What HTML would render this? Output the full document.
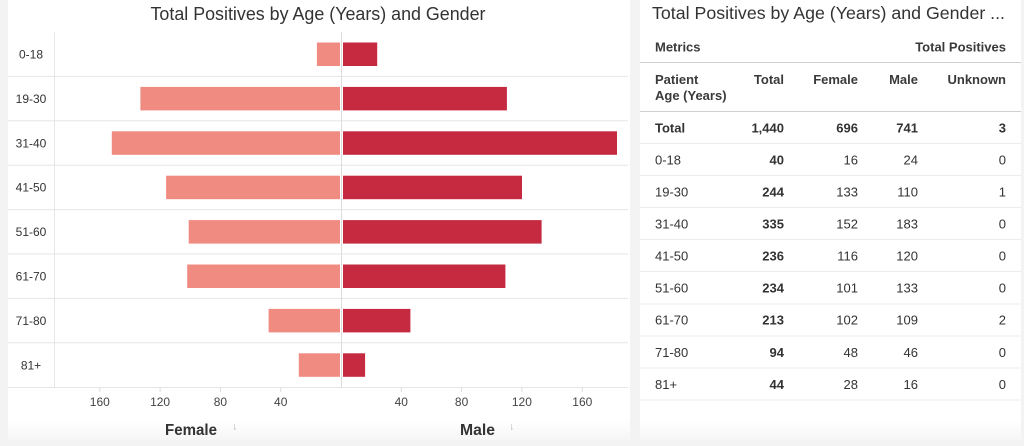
<!DOCTYPE html>
<html><head><meta charset="utf-8"><style>
html,body{margin:0;padding:0;background:#f3f3f3;}
svg{display:block;font-family:"Liberation Sans",sans-serif;}
</style></head><body>
<svg width="1024" height="446" viewBox="0 0 1024 446" xmlns="http://www.w3.org/2000/svg">
<defs>
<linearGradient id="fade" x1="0" y1="0" x2="0" y2="1">
<stop offset="0" stop-color="#ffffff"/><stop offset="1" stop-color="#f6f6f6"/>
</linearGradient>
</defs>
<rect x="0" y="0" width="1024" height="446" fill="#f3f3f3"/>
<rect x="8" y="0" width="622" height="440" fill="#fff"/>
<rect x="8" y="420" width="622" height="20" fill="url(#fade)"/>
<rect x="640" y="0" width="381" height="440" fill="#fff"/>
<rect x="640" y="420" width="381" height="20" fill="url(#fade)"/>

<!-- left chart -->
<text x="318" y="20" text-anchor="middle" font-size="18" fill="#333" textLength="335" lengthAdjust="spacingAndGlyphs">Total Positives by Age (Years) and Gender</text>

<g stroke="#e6e6e6" stroke-width="1">
<line x1="8" y1="76.4" x2="628" y2="76.4"/>
<line x1="8" y1="120.8" x2="628" y2="120.8"/>
<line x1="8" y1="165.2" x2="628" y2="165.2"/>
<line x1="8" y1="209.6" x2="628" y2="209.6"/>
<line x1="8" y1="254" x2="628" y2="254"/>
<line x1="8" y1="298.4" x2="628" y2="298.4"/>
<line x1="8" y1="342.8" x2="628" y2="342.8"/>
<line x1="8" y1="387.5" x2="628" y2="387.5"/>
<line x1="54.5" y1="32" x2="54.5" y2="387.5"/>
<line x1="341.5" y1="32" x2="341.5" y2="387.5" stroke="#dcdcdc"/>
</g>
<g stroke="#dcdcdc" stroke-width="1">
<line x1="99.8" y1="387" x2="99.8" y2="392"/>
<line x1="160.1" y1="387" x2="160.1" y2="392"/>
<line x1="220.4" y1="387" x2="220.4" y2="392"/>
<line x1="280.7" y1="387" x2="280.7" y2="392"/>
<line x1="401.3" y1="387" x2="401.3" y2="392"/>
<line x1="461.6" y1="387" x2="461.6" y2="392"/>
<line x1="521.9" y1="387" x2="521.9" y2="392"/>
<line x1="582.3" y1="387" x2="582.3" y2="392"/>
</g>

<g fill="#f08b82">
<rect x="316.9" y="42.5" width="23.1" height="23.5"/>
<rect x="140.4" y="86.9" width="199.6" height="23.5"/>
<rect x="111.8" y="131.3" width="228.2" height="23.5"/>
<rect x="166.1" y="175.7" width="173.9" height="23.5"/>
<rect x="188.7" y="220.1" width="151.3" height="23.5"/>
<rect x="187.2" y="264.5" width="152.8" height="23.5"/>
<rect x="268.6" y="308.9" width="71.4" height="23.5"/>
<rect x="298.8" y="353.3" width="41.2" height="23.5"/>
</g>
<g fill="#c52a40">
<rect x="343" y="42.5" width="34.2" height="23.5"/>
<rect x="343" y="86.9" width="163.9" height="23.5"/>
<rect x="343" y="131.3" width="274" height="23.5"/>
<rect x="343" y="175.7" width="179" height="23.5"/>
<rect x="343" y="220.1" width="198.6" height="23.5"/>
<rect x="343" y="264.5" width="162.4" height="23.5"/>
<rect x="343" y="308.9" width="67.4" height="23.5"/>
<rect x="343" y="353.3" width="22.1" height="23.5"/>
</g>

<g font-size="12" fill="#333" text-anchor="middle">
<text x="31" y="58.5">0-18</text>
<text x="31" y="102.9">19-30</text>
<text x="31" y="147.3">31-40</text>
<text x="31" y="191.7">41-50</text>
<text x="31" y="236.1">51-60</text>
<text x="31" y="280.5">61-70</text>
<text x="31" y="324.9">71-80</text>
<text x="31" y="369.3">81+</text>
</g>
<g font-size="12" fill="#444" text-anchor="middle">
<text x="99.8" y="406">160</text>
<text x="160.1" y="406">120</text>
<text x="220.4" y="406">80</text>
<text x="280.7" y="406">40</text>
<text x="401.3" y="406">40</text>
<text x="461.6" y="406">80</text>
<text x="521.9" y="406">120</text>
<text x="582.3" y="406">160</text>
</g>
<text x="165" y="435" font-size="16" font-weight="bold" fill="#333" textLength="52" lengthAdjust="spacingAndGlyphs">Female</text>
<text x="460" y="435" font-size="16" font-weight="bold" fill="#333" textLength="35" lengthAdjust="spacingAndGlyphs">Male</text>
<text x="231" y="430" font-size="8" fill="#c8c8c8">⇂</text>
<text x="508" y="430" font-size="8" fill="#c8c8c8">⇂</text>

<!-- right table -->
<text x="652" y="19" font-size="17.5" fill="#333" textLength="353" lengthAdjust="spacingAndGlyphs">Total Positives by Age (Years) and Gender ...</text>
<g font-size="13" fill="#3a3a3a" font-weight="bold">
<text x="655" y="51.5">Metrics</text>
<text x="1006" y="51.5" text-anchor="end">Total Positives</text>
<text x="655" y="84">Patient</text>
<text x="655" y="100">Age (Years)</text>
<text x="784" y="84" text-anchor="end">Total</text>
<text x="858" y="84" text-anchor="end">Female</text>
<text x="918" y="84" text-anchor="end">Male</text>
<text x="1006" y="84" text-anchor="end">Unknown</text>
</g>
<line x1="640" y1="62.5" x2="1021" y2="62.5" stroke="#cfcfcf"/>
<line x1="640" y1="111.5" x2="1021" y2="111.5" stroke="#cfcfcf"/>
<g stroke="#ececec">
<line x1="640" y1="143.5" x2="1021" y2="143.5"/>
<line x1="640" y1="175.5" x2="1021" y2="175.5"/>
<line x1="640" y1="207.5" x2="1021" y2="207.5"/>
<line x1="640" y1="239.5" x2="1021" y2="239.5"/>
<line x1="640" y1="271.5" x2="1021" y2="271.5"/>
<line x1="640" y1="304" x2="1021" y2="304"/>
<line x1="640" y1="336" x2="1021" y2="336"/>
<line x1="640" y1="368" x2="1021" y2="368"/>
<line x1="640" y1="400" x2="1021" y2="400"/>
</g>
<g font-size="13" fill="#333" font-weight="bold">
<text x="655" y="132.5">Total</text>
<text x="784" y="132.5" text-anchor="end">1,440</text>
<text x="858" y="132.5" text-anchor="end">696</text>
<text x="918" y="132.5" text-anchor="end">741</text>
<text x="1006" y="132.5" text-anchor="end">3</text>
</g>
<g font-size="13" fill="#333">
<text x="655" y="164.5">0-18</text>
<text x="655" y="196.5">19-30</text>
<text x="655" y="228.5">31-40</text>
<text x="655" y="260.5">41-50</text>
<text x="655" y="292.5">51-60</text>
<text x="655" y="324.5">61-70</text>
<text x="655" y="357">71-80</text>
<text x="655" y="389">81+</text>
</g>
<g font-size="13" fill="#333" font-weight="bold" text-anchor="end">
<text x="784" y="164.5">40</text>
<text x="784" y="196.5">244</text>
<text x="784" y="228.5">335</text>
<text x="784" y="260.5">236</text>
<text x="784" y="292.5">234</text>
<text x="784" y="324.5">213</text>
<text x="784" y="357">94</text>
<text x="784" y="389">44</text>
</g>
<g font-size="13" fill="#333" text-anchor="end">
<text x="858" y="164.5">16</text>
<text x="858" y="196.5">133</text>
<text x="858" y="228.5">152</text>
<text x="858" y="260.5">116</text>
<text x="858" y="292.5">101</text>
<text x="858" y="324.5">102</text>
<text x="858" y="357">48</text>
<text x="858" y="389">28</text>
<text x="918" y="164.5">24</text>
<text x="918" y="196.5">110</text>
<text x="918" y="228.5">183</text>
<text x="918" y="260.5">120</text>
<text x="918" y="292.5">133</text>
<text x="918" y="324.5">109</text>
<text x="918" y="357">46</text>
<text x="918" y="389">16</text>
<text x="1006" y="164.5">0</text>
<text x="1006" y="196.5">1</text>
<text x="1006" y="228.5">0</text>
<text x="1006" y="260.5">0</text>
<text x="1006" y="292.5">0</text>
<text x="1006" y="324.5">2</text>
<text x="1006" y="357">0</text>
<text x="1006" y="389">0</text>
</g>
</svg>
</body></html>
